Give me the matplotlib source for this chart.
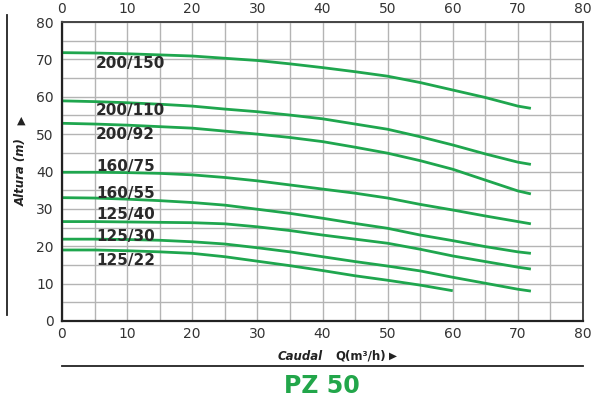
import matplotlib
matplotlib.use("Agg")
import matplotlib.pyplot as plt
import numpy as np

q = [0, 5, 10, 15, 20, 25, 30, 35, 40, 45, 50, 55, 60, 65, 70, 72]
q_short = [0, 5, 10, 15, 20, 25, 30, 35, 40, 45, 50, 55, 60]

h_200_150 = [71.8, 71.7, 71.5, 71.2, 70.9, 70.3, 69.7, 68.8, 67.8, 66.7, 65.5, 63.8, 61.8, 59.8, 57.5, 56.9]
h_200_110 = [58.9, 58.7, 58.4, 58.0, 57.5, 56.7, 56.0, 55.1, 54.1, 52.7, 51.3, 49.3, 47.1, 44.7, 42.5, 41.9]
h_200_92 = [52.9, 52.7, 52.4, 52.0, 51.6, 50.8, 50.0, 49.1, 48.0, 46.5, 44.9, 42.9, 40.6, 37.7, 34.8, 34.0]
h_160_75 = [39.8, 39.8, 39.7, 39.5, 39.1, 38.4, 37.5, 36.4, 35.3, 34.2, 32.9, 31.2, 29.7, 28.1, 26.6, 26.0]
h_160_55 = [33.0, 32.9, 32.6, 32.2, 31.7, 31.0, 29.9, 28.8, 27.5, 26.1, 24.8, 23.0, 21.5, 19.9, 18.5, 18.1]
h_125_40 = [26.6, 26.6, 26.5, 26.4, 26.3, 26.0, 25.2, 24.2, 23.0, 21.9, 20.8, 19.2, 17.4, 15.9, 14.4, 13.9]
h_125_30 = [21.9, 21.9, 21.8, 21.6, 21.2, 20.6, 19.6, 18.5, 17.2, 15.9, 14.7, 13.4, 11.7, 10.1, 8.5, 8.0]
h_125_22 = [19.0, 19.0, 18.8, 18.5, 18.1, 17.2, 16.0, 14.8, 13.5, 12.1, 10.9, 9.6, 8.1]

labels = ["200/150", "200/110", "200/92", "160/75", "160/55", "125/40", "125/30", "125/22"]
label_y = [69.0, 56.4, 50.0, 41.4, 34.2, 28.6, 22.7, 16.3]
label_x = 5.2

series = [(q, h_200_150), (q, h_200_110), (q, h_200_92), (q, h_160_75),
          (q, h_160_55), (q, h_125_40), (q, h_125_30), (q_short, h_125_22)]

green = "#1fa64e"

fig = plt.figure(figsize=(5.95, 4.03), dpi=100)
ax = fig.add_axes([62/595, 1 - 321/403, (583-62)/595, (321-22)/403])

ax.set_xlim(0, 80)
ax.set_ylim(0, 80)
ax.set_xticks(np.arange(0, 81, 10))
ax.set_yticks(np.arange(0, 81, 10))
ax.set_xticks(np.arange(0, 81, 5), minor=True)
ax.set_yticks(np.arange(0, 81, 5), minor=True)
ax.grid(True, which="both", color="#b4b4b4", linewidth=1.0)
ax.set_axisbelow(True)
ax.tick_params(which="both", length=0)
ax.tick_params(axis="x", top=True, labeltop=True, labelsize=10, colors="#333333", pad=4)
ax.tick_params(axis="y", labelsize=10, colors="#333333", pad=6)
for s in ["left", "bottom"]:
    ax.spines[s].set_linewidth(1.6)
    ax.spines[s].set_color("#222222")
for s in ["top", "right"]:
    ax.spines[s].set_linewidth(1.4)
    ax.spines[s].set_color("#444444")

for (x, y) in series:
    ax.plot(x, y, color=green, linewidth=2.0, solid_capstyle="butt", solid_joinstyle="round")

for lab, ly in zip(labels, label_y):
    ax.text(label_x, ly, lab, fontsize=11, fontweight="bold", color="#2a2a2a",
            ha="left", va="center")

# left vertical rule
fig.add_artist(plt.Line2D([7/595, 7/595], [1 - 15/403, 1 - 315/403],
                          transform=fig.transFigure, color="#222222", linewidth=1.3))
# y label
fig.text(21/595, 1 - 172/403, "Altura (m)", rotation=90, fontsize=8.5,
         fontweight="bold", fontstyle="italic", ha="center", va="center", color="#222222")
fig.text(21/595, 1 - 121/403, "\u25B2", fontsize=8, ha="center", va="center", color="#222222")

# x label
fig.text(323/595, 1 - 356/403, "Caudal", fontsize=8.5, fontweight="bold",
         fontstyle="italic", ha="right", va="center", color="#222222")
fig.text(335/595, 1 - 356/403, "Q(m\u00B3/h)", fontsize=8.5, fontweight="bold",
         ha="left", va="center", color="#222222")
fig.text(393/595, 1 - 356/403, "\u25B6", fontsize=7.5, ha="center", va="center", color="#222222")

# bottom rule
fig.add_artist(plt.Line2D([62/595, 583/595], [1 - 366/403, 1 - 366/403],
                          transform=fig.transFigure, color="#222222", linewidth=1.3))

fig.text(322/595, 1 - 386/403, "PZ 50", fontsize=17, fontweight="bold",
         ha="center", va="center", color="#22a64a")

fig.savefig("out.png", dpi=100)
